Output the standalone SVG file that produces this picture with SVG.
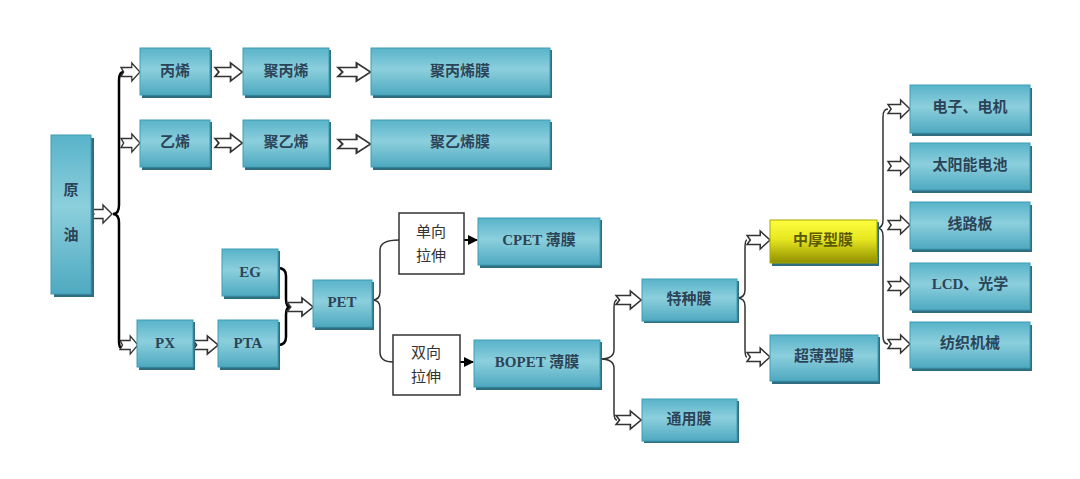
<svg xmlns="http://www.w3.org/2000/svg" width="1080" height="479" viewBox="0 0 1080 479">
<defs>
<linearGradient id="teal" x1="0" y1="0" x2="0" y2="1">
<stop offset="0" stop-color="#58b3c9"/>
<stop offset="0.45" stop-color="#8ccfdd"/>
<stop offset="1" stop-color="#4ea9c0"/>
</linearGradient>
<linearGradient id="yel" x1="0" y1="0" x2="0" y2="1">
<stop offset="0" stop-color="#ffff40"/>
<stop offset="0.45" stop-color="#e6e620"/>
<stop offset="1" stop-color="#8f8f00"/>
</linearGradient>
<path id="ha" d="M0,-4.5 H12 V-9 L21,0 L12,9 V4.5 H0 L3,0 Z"/>
<marker id="tri" viewBox="0 0 10 10" refX="9" refY="5" markerWidth="5" markerHeight="5" orient="auto" markerUnits="strokeWidth">
<path d="M0,0 L10,5 L0,10 Z" fill="#000"/>
</marker>
</defs>
<style>
.bx{fill:url(#teal);stroke:#3f9db5;stroke-width:1}
.sh{fill:#2f6e80}
.yb{fill:url(#yel);stroke:#a8a800;stroke-width:1}
.wb{fill:#fff;stroke:#333;stroke-width:1.5}
.t{font-family:"Liberation Serif","Noto Sans CJK SC",serif;font-size:15px;font-weight:bold;fill:#2c4457;text-anchor:middle;dominant-baseline:central}
.ty{fill:#5a5a00}
.tw{font-weight:normal;fill:#333}
.arw{fill:#fff;stroke:#333;stroke-width:1.4}
.br{fill:none;stroke:#000;stroke-width:2.5}
.br2{fill:none;stroke:#333;stroke-width:1.5}
.ln{fill:none;stroke:#000;stroke-width:2;marker-end:url(#tri)}
</style>
<rect width="1080" height="479" fill="#fff"/>

<g id="connectors">
<path class="br" d="M124,72 Q119,72 119,80 V205 Q119,214 113,214 Q119,214 119,223 V340 Q119,352 124,345"/>
<path class="br" d="M278,268 Q286,268 286,276 V299 Q286,307 290,307 Q286,307 286,315 V337 Q286,345 278,345"/>
<path class="br2" d="M399,240 Q380,240 380,250 V292 Q380,300 372,300 Q380,300 380,308 V352 Q380,362 393,362"/>
<path class="br2" d="M617,300 Q614,300 614,308 V350 Q614,359 600,359 Q614,359 614,368 V412 Q614,420 617,420"/>
<path class="br2" d="M747,240 Q745,240 745,248 V290 Q745,298 737,298 Q745,298 745,306 V349 Q745,357 747,357"/>
<path class="br2" d="M888,109 Q883,109 883,117 V220 Q883,228 877,228 Q883,228 883,236 V336 Q883,344 888,344"/>
<path class="ln" d="M464,240 H477"/>
<path class="ln" d="M460,362 H473"/>
<use href="#ha" class="arw" transform="translate(91,214)"/>
<use href="#ha" class="arw" transform="translate(121,72) scale(0.9,1)"/>
<use href="#ha" class="arw" transform="translate(121,143) scale(0.9,1)"/>
<use href="#ha" class="arw" transform="translate(120,345) scale(0.85,1)"/>
<use href="#ha" class="arw" transform="translate(215,72) scale(1.3,1)"/>
<use href="#ha" class="arw" transform="translate(215,143) scale(1.3,1)"/>
<use href="#ha" class="arw" transform="translate(338,72) scale(1.55,1)"/>
<use href="#ha" class="arw" transform="translate(338,144) scale(1.55,1)"/>
<use href="#ha" class="arw" transform="translate(193,345) scale(1.2,1)"/>
<use href="#ha" class="arw" transform="translate(287,307) scale(1.25,1)"/>
<use href="#ha" class="arw" transform="translate(616,300) scale(1.2,1)"/>
<use href="#ha" class="arw" transform="translate(616,420) scale(1.2,1)"/>
<use href="#ha" class="arw" transform="translate(747,240) scale(1.1,1)"/>
<use href="#ha" class="arw" transform="translate(747,357) scale(1.1,1)"/>
<use href="#ha" class="arw" transform="translate(888,109) scale(1.05,1)"/>
<use href="#ha" class="arw" transform="translate(888,166) scale(1.05,1)"/>
<use href="#ha" class="arw" transform="translate(888,225) scale(1.05,1)"/>
<use href="#ha" class="arw" transform="translate(888,286) scale(1.05,1)"/>
<use href="#ha" class="arw" transform="translate(888,344) scale(1.05,1)"/>
</g>

<g id="n-yuanyou"><rect class="sh" x="54" y="138" width="40" height="159"/><rect class="bx" x="51" y="135" width="40" height="159"/><text class="t" x="71" y="190">原</text><text class="t" x="71" y="235">油</text></g>
<g id="n-bingxi"><rect class="sh" x="142" y="50" width="70" height="48"/><rect class="bx" x="140" y="48" width="70" height="47"/><text class="t" x="175" y="71">丙烯</text></g>
<g id="n-jubingxi"><rect class="sh" x="245" y="50" width="86" height="48"/><rect class="bx" x="243" y="48" width="86" height="47"/><text class="t" x="286" y="71">聚丙烯</text></g>
<g id="n-jubingximo"><rect class="sh" x="373" y="50" width="179" height="48"/><rect class="bx" x="371" y="48" width="179" height="47"/><text class="t" x="460" y="71">聚丙烯膜</text></g>
<g id="n-yixi"><rect class="sh" x="142" y="122" width="70" height="48"/><rect class="bx" x="140" y="120" width="70" height="47"/><text class="t" x="175" y="142">乙烯</text></g>
<g id="n-juyixi"><rect class="sh" x="245" y="122" width="86" height="48"/><rect class="bx" x="243" y="120" width="86" height="47"/><text class="t" x="286" y="142">聚乙烯</text></g>
<g id="n-juyiximo"><rect class="sh" x="373" y="122" width="179" height="48"/><rect class="bx" x="371" y="120" width="179" height="47"/><text class="t" x="460" y="142">聚乙烯膜</text></g>
<g id="n-eg"><rect class="sh" x="224" y="251" width="56" height="48"/><rect class="bx" x="222" y="249" width="56" height="47"/><text class="t" x="250" y="272">EG</text></g>
<g id="n-px"><rect class="sh" x="139" y="322" width="56" height="48"/><rect class="bx" x="137" y="320" width="56" height="47"/><text class="t" x="165" y="343">PX</text></g>
<g id="n-pta"><rect class="sh" x="220" y="322" width="60" height="48"/><rect class="bx" x="218" y="320" width="60" height="47"/><text class="t" x="248" y="343">PTA</text></g>
<g id="n-pet"><rect class="sh" x="315" y="282" width="59" height="48"/><rect class="bx" x="313" y="280" width="59" height="47"/><text class="t" x="342" y="302">PET</text></g>
<g id="n-danxiang"><rect class="wb" x="399" y="213" width="65" height="61"/><text class="t tw" x="431" y="232">单向</text><text class="t tw" x="431" y="256">拉伸</text></g>
<g id="n-cpet"><rect class="sh" x="480" y="220" width="122" height="48"/><rect class="bx" x="478" y="218" width="122" height="47"/><text class="t" x="539" y="240">CPET 薄膜</text></g>
<g id="n-shuangxiang"><rect class="wb" x="393" y="335" width="67" height="60"/><text class="t tw" x="426" y="353">双向</text><text class="t tw" x="426" y="377">拉伸</text></g>
<g id="n-bopet"><rect class="sh" x="476" y="342" width="126" height="48"/><rect class="bx" x="474" y="340" width="126" height="47"/><text class="t" x="537" y="362">BOPET 薄膜</text></g>
<g id="n-tezhongmo"><rect class="sh" x="644" y="281" width="95" height="42"/><rect class="bx" x="642" y="279" width="95" height="42"/><text class="t" x="689" y="299">特种膜</text></g>
<g id="n-tongyongmo"><rect class="sh" x="644" y="401" width="95" height="42"/><rect class="bx" x="642" y="399" width="95" height="42"/><text class="t" x="689" y="419">通用膜</text></g>
<g id="n-zhonghou"><rect class="sh" x="772" y="222" width="107" height="44"/><rect class="yb" x="770" y="220" width="107" height="43"/><text class="t ty" x="823" y="240">中厚型膜</text></g>
<g id="n-chaobao"><rect class="sh" x="772" y="337" width="108" height="47"/><rect class="bx" x="770" y="335" width="108" height="46"/><text class="t" x="824" y="356">超薄型膜</text></g>
<g id="n-dianzi"><rect class="sh" x="912" y="88" width="120" height="48"/><rect class="bx" x="910" y="85" width="120" height="48"/><text class="t" x="970" y="107">电子、电机</text></g>
<g id="n-taiyang"><rect class="sh" x="912" y="146" width="120" height="47"/><rect class="bx" x="910" y="143" width="120" height="47"/><text class="t" x="970" y="165">太阳能电池</text></g>
<g id="n-xianlu"><rect class="sh" x="912" y="205" width="120" height="47"/><rect class="bx" x="910" y="202" width="120" height="47"/><text class="t" x="970" y="224">线路板</text></g>
<g id="n-lcd"><rect class="sh" x="912" y="266" width="120" height="47"/><rect class="bx" x="910" y="263" width="120" height="47"/><text class="t" x="970" y="284">LCD、光学</text></g>
<g id="n-fangzhi"><rect class="sh" x="912" y="325" width="120" height="46"/><rect class="bx" x="910" y="322" width="120" height="46"/><text class="t" x="970" y="343">纺织机械</text></g>
</svg>
